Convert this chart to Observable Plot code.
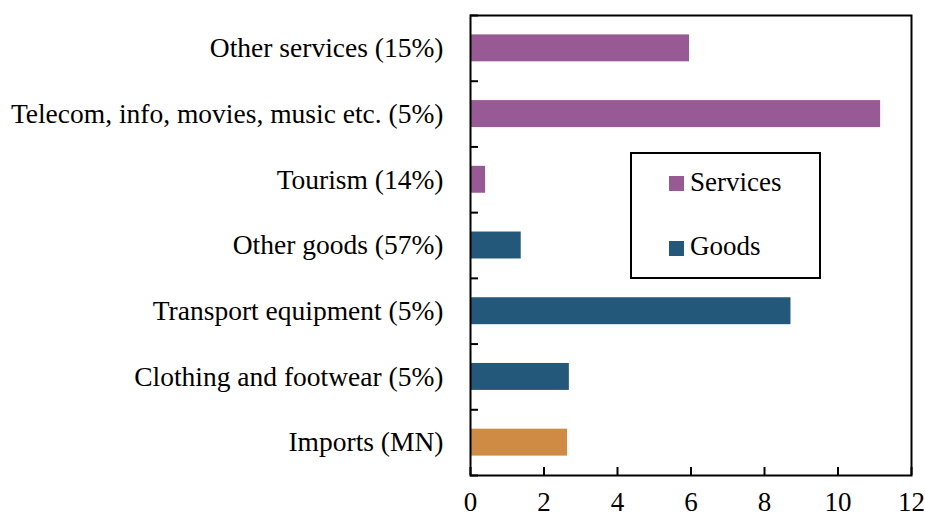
<!DOCTYPE html>
<html><head><meta charset="utf-8">
<script src="https://cdn.jsdelivr.net/npm/d3@7"></script>
<script src="https://cdn.jsdelivr.net/npm/@observablehq/plot@0.6"></script>
<style>
body{margin:0;background:#fff;}
#wrap{position:relative;width:925px;height:517px;font-family:"Liberation Serif",serif;}
#legend{position:absolute;left:630px;top:152px;width:187px;height:123px;border:2px solid #000;background:#fff;}
.sw{position:absolute;left:37px;width:15px;height:15px;}
.lab{position:absolute;left:58px;font-size:27px;line-height:27px;color:#000;white-space:nowrap;}
</style></head>
<body><div id="wrap"><div id="legend"></div></div>
<script>
const categories = ["Imports (MN)","Clothing and footwear (5%)","Transport equipment (5%)","Other goods (57%)","Tourism (14%)","Telecom, info, movies, music etc. (5%)","Other services (15%)"];
const groups = ["Imports","Goods","Goods","Goods","Services","Services","Services"];
const values = [2.64, 2.69, 8.72, 1.38, 0.41, 11.16, 5.96];
const xTicks = [0,2,4,6,8,10,12];
const groupColors = {Imports:"#CF8B44", Goods:"#23587A", Services:"#975A94"};
const legendItems = ["Services","Goods"];

const data = categories.map((c,i)=>({cat:c, i, group:groups[i], value:values[i]}));
const half = 0.205;
const fs = 27;
const chart = Plot.plot({
  width:925, height:517,
  marginLeft:470, marginRight:14, marginTop:15, marginBottom:42,
  style:{fontFamily:"Liberation Serif, serif", fontSize:fs+"px", color:"#000", background:"#fff"},
  x:{domain:[0,12]},
  y:{domain:[0,7]},
  marks:[
    Plot.rectX(data,{x1:0, x2:"value", y1:d=>d.i+0.5-half, y2:d=>d.i+0.5+half, fill:d=>groupColors[d.group]}),
    Plot.axisX({ticks:xTicks, tickSize:8, dy:-8, tickFormat:()=>"", strokeWidth:2, label:null}),
    Plot.axisX({ticks:xTicks, tickSize:0, tickPadding:16, fontSize:fs, label:null}),
    Plot.axisY({ticks:d3.range(8), tickSize:8, dx:8, tickFormat:()=>"", strokeWidth:2, label:null}),
    Plot.axisY({ticks:categories.map((c,i)=>i+0.5), tickSize:0, tickPadding:27, tickFormat:v=>categories[Math.round(v-0.5)], fontSize:27.5, label:null}),
    Plot.frame({stroke:"#000", strokeWidth:2})
  ]
});
document.getElementById("wrap").prepend(chart);
const lg = document.getElementById("legend");
legendItems.forEach((g,k)=>{
  const sw = document.createElement("div");
  sw.className="sw";
  sw.style.top = (k===0?22:87)+"px";
  sw.style.background = groupColors[g];
  lg.appendChild(sw);
  const t = document.createElement("div");
  t.className="lab";
  t.style.top = (k===0?15:79)+"px";
  t.textContent = g;
  lg.appendChild(t);
});
</script></body></html>
